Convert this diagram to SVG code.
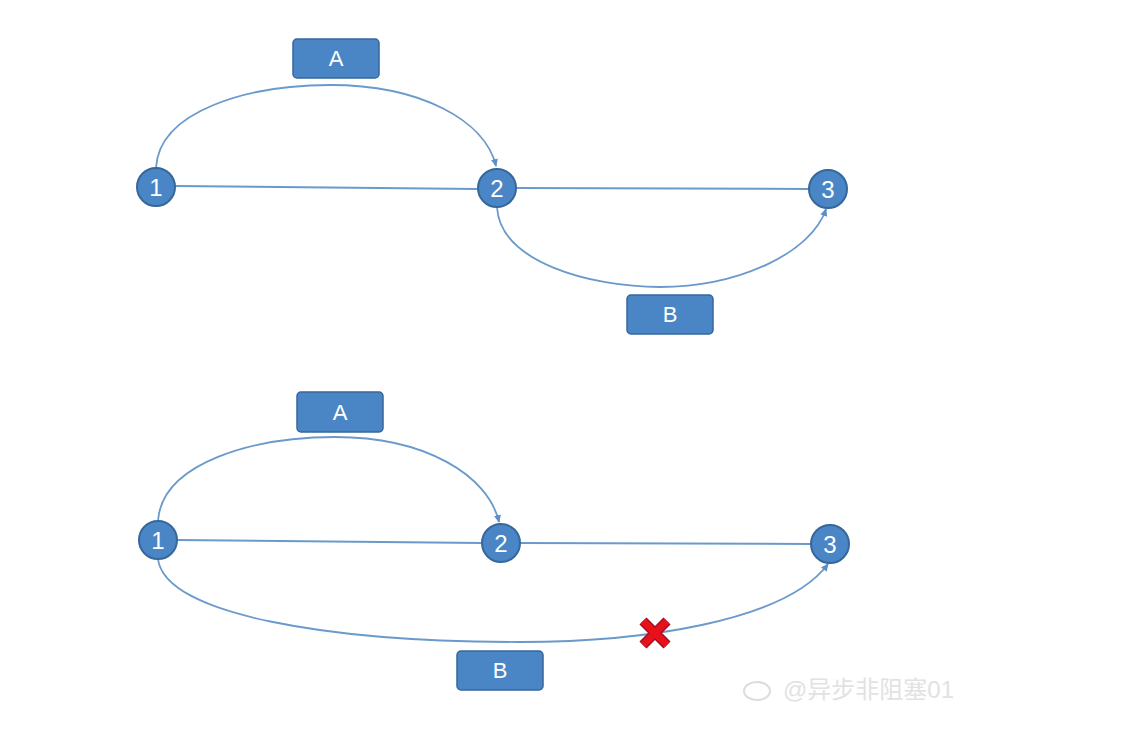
<svg xmlns="http://www.w3.org/2000/svg" width="1130" height="734" viewBox="0 0 1130 734">
<style>
.node circle{fill:#4a86c6;stroke:#36679a;stroke-width:2}
.node text,.lab text{fill:#fff;font-family:"Liberation Sans",Arial,sans-serif;text-anchor:middle}
.node text{font-size:24px}
.lab rect{fill:#4a86c6;stroke:#36679a;stroke-width:1.5}
.lab text{font-size:22px}
.edge{fill:none;stroke:#6a9acb;stroke-width:2}
.arc{fill:none;stroke:#6a9acb;stroke-width:1.8;marker-end:url(#ah)}
</style>
<defs>
<marker id="ah" markerWidth="8" markerHeight="8" refX="7" refY="4" orient="auto" markerUnits="userSpaceOnUse">
<path d="M0,0.5 L8,4 L0,7.5 Z" fill="#5b8fc7"/>
</marker>
</defs>
<rect width="1130" height="734" fill="#fff"/>
<g id="connectors">
<line class="edge" x1="175" y1="186" x2="478" y2="189"/>
<line class="edge" x1="516" y1="188" x2="809" y2="189"/>
<path class="arc" d="M156,168 C159,110 250,85 330,85 C420,85 485,120 496,166"/>
<path class="arc" d="M497,207 C500,262 590,287 660,287 C740,287 812,252 826,209"/>
<line class="edge" x1="177" y1="540" x2="482" y2="543"/>
<line class="edge" x1="520" y1="543" x2="811" y2="544"/>
<path class="arc" d="M158,521 C162,462 255,437 335,437 C425,437 488,475 499,522"/>
<path class="arc" d="M158,559 C165,615 330,642 520,642 C640,642 785,622 828,564"/>
</g>
<g id="top-n1" class="node"><circle cx="156" cy="187" r="19"/><text x="156" y="196">1</text></g>
<g id="top-n2" class="node"><circle cx="497" cy="188" r="19"/><text x="497" y="197">2</text></g>
<g id="top-n3" class="node"><circle cx="828" cy="189" r="19"/><text x="828" y="198">3</text></g>
<g id="top-A" class="lab"><rect x="293" y="39" width="86" height="39" rx="4"/><text x="336" y="66">A</text></g>
<g id="top-B" class="lab"><rect x="627" y="295" width="86" height="39" rx="4"/><text x="670" y="322">B</text></g>
<g id="bot-n1" class="node"><circle cx="158" cy="540" r="19"/><text x="158" y="549">1</text></g>
<g id="bot-n2" class="node"><circle cx="501" cy="543" r="19"/><text x="501" y="552">2</text></g>
<g id="bot-n3" class="node"><circle cx="830" cy="544" r="19"/><text x="830" y="553">3</text></g>
<g id="bot-A" class="lab"><rect x="297" y="392" width="86" height="40" rx="4"/><text x="340" y="420">A</text></g>
<g id="bot-B" class="lab"><rect x="457" y="651" width="86" height="39" rx="4"/><text x="500" y="678">B</text></g>
<g id="cross">
<path d="M643,621 L667,645 M667,621 L643,645" stroke="#a01020" stroke-width="10" stroke-linecap="butt"/>
<path d="M643,621 L667,645 M667,621 L643,645" stroke="#e8101a" stroke-width="7"/>
</g>
<g id="watermark">
<text x="783" y="698" font-family="'Liberation Sans','Noto Sans CJK SC',sans-serif" font-size="24" fill="#e2e2e2">@异步非阻塞01</text>
<ellipse cx="757" cy="691" rx="13" ry="9" fill="none" stroke="#dcdcdc" stroke-width="2"/>
</g>
</svg>
